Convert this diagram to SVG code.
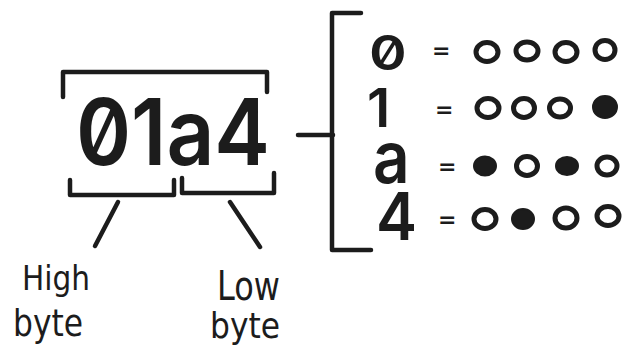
<svg xmlns="http://www.w3.org/2000/svg" width="634" height="353" viewBox="0 0 634 353">
<style>
.ln{fill:none;stroke:#1c1c1c;stroke-width:4.5;stroke-linecap:round;stroke-linejoin:round}
.big{font-family:Inter,"DejaVu Sans",sans-serif;font-weight:600;fill:#1c1c1c;font-feature-settings:"zero" 1}
.eq{font-family:"DejaVu Sans","Liberation Sans",sans-serif;font-weight:bold;fill:#1c1c1c;font-size:22px}
.lbl{font-family:"DejaVu Sans","Liberation Sans",sans-serif;fill:#1c1c1c}
.off{fill:none;stroke:#1c1c1c;stroke-width:5}
.on{fill:#1c1c1c;stroke:#1c1c1c;stroke-width:2}
</style>
<rect width="634" height="353" fill="#ffffff"/>
<g id="hex-value">
<text class="big" x="76" y="165" font-size="92" textLength="194" lengthAdjust="spacingAndGlyphs">01a4</text>
</g>
<g id="connectors">
<path class="ln" d="M63,97 V72 H267 V92"/>
<path class="ln" d="M70,180 V195 H174 V180"/>
<path class="ln" d="M182,178 V193 H274 V173"/>
<path class="ln" d="M118,202 L95,246"/>
<path class="ln" d="M230,202 L260,247"/>
<path class="ln" d="M298,135 H333"/>
<path class="ln" d="M361,13 H332 V250 H371"/>
</g>
<g id="high-byte">
<text class="lbl" transform="translate(22,290) scale(1,1.15)" font-size="30" textLength="68" lengthAdjust="spacingAndGlyphs">High</text>
<text class="lbl" transform="translate(13,336) scale(1,1.15)" font-size="32" textLength="70" lengthAdjust="spacingAndGlyphs">byte</text>
</g>
<g id="low-byte">
<text class="lbl" transform="translate(217,300) scale(1,1.3)" font-size="31" textLength="63" lengthAdjust="spacingAndGlyphs">Low</text>
<text class="lbl" transform="translate(210,338) scale(1,1.1)" font-size="32" textLength="70" lengthAdjust="spacingAndGlyphs">byte</text>
</g>
<g id="row-0">
<text class="big" transform="translate(369,70) scale(1.3,1.1)" font-size="44">0</text>
<text class="eq" x="432" y="58">=</text>
<ellipse class="off" cx="487" cy="52" rx="11" ry="9.5"/>
<ellipse class="off" cx="527" cy="51" rx="11" ry="9"/>
<ellipse class="off" cx="566" cy="52" rx="11" ry="9.5"/>
<ellipse class="off" cx="605" cy="50" rx="10" ry="9.5"/>
</g>
<g id="row-1">
<text class="big" transform="translate(367,127) scale(1.25,1.22)" font-size="44">1</text>
<text class="eq" x="435" y="117">=</text>
<ellipse class="off" cx="488" cy="108" rx="11" ry="9.5"/>
<ellipse class="off" cx="524" cy="108" rx="10.5" ry="9.5"/>
<ellipse class="off" cx="560" cy="108" rx="10.5" ry="9"/>
<ellipse class="on" cx="605" cy="107" rx="12" ry="11"/>
</g>
<g id="row-a">
<text class="big" transform="translate(373,183) scale(1.45,1.65)" font-size="44">a</text>
<text class="eq" x="438" y="174">=</text>
<ellipse class="on" cx="485" cy="166" rx="11" ry="9.5"/>
<ellipse class="off" cx="527" cy="166" rx="10.5" ry="9.5"/>
<ellipse class="on" cx="567" cy="166" rx="11" ry="9"/>
<ellipse class="off" cx="607" cy="166" rx="10" ry="9"/>
</g>
<g id="row-4">
<text class="big" transform="translate(376,240) scale(1.4,1.5)" font-size="44">4</text>
<text class="eq" x="438" y="227">=</text>
<ellipse class="off" cx="485" cy="219" rx="11" ry="9.5"/>
<ellipse class="on" cx="523" cy="219" rx="11" ry="10"/>
<ellipse class="off" cx="566" cy="218" rx="11" ry="10"/>
<ellipse class="off" cx="608" cy="216" rx="11" ry="9.5"/>
</g>
</svg>
